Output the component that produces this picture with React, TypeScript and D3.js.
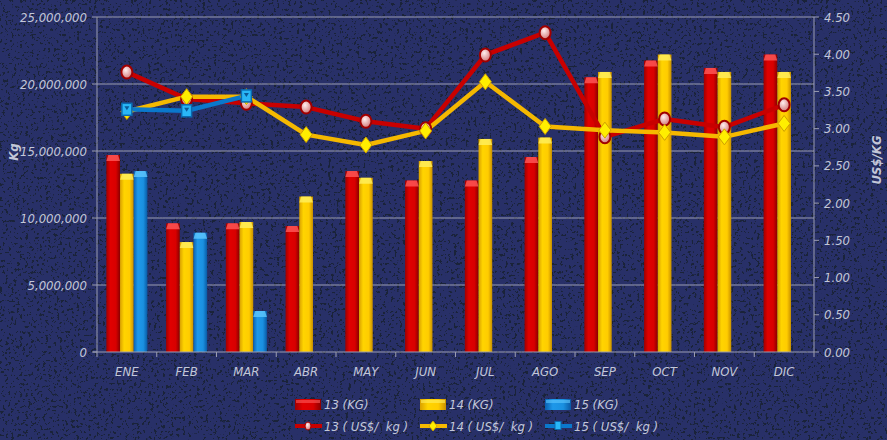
import React from "react";
import * as d3 from "d3";

const months = ["ENE","FEB","MAR","ABR","MAY","JUN","JUL","AGO","SEP","OCT","NOV","DIC"];
const kg13 = [14.7e6, 9.6e6, 9.6e6, 9.4e6, 13.5e6, 12.8e6, 12.8e6, 14.55e6, 20.5e6, 21.75e6, 21.2e6, 22.2e6];
const kg14 = [13.3e6, 8.2e6, 9.7e6, 11.6e6, 13.0e6, 14.25e6, 15.9e6, 16.0e6, 20.9e6, 22.2e6, 20.9e6, 20.9e6];
const kg15 = [13.5e6, 8.9e6, 3.06e6];
const usd13 = [3.76, 3.40, 3.34, 3.29, 3.10, 3.00, 3.99, 4.29, 2.89, 3.13, 3.02, 3.32];
const usd14 = [3.23, 3.43, 3.43, 2.92, 2.78, 2.97, 3.63, 3.03, 2.98, 2.95, 2.89, 3.07];
const usd15 = [3.26, 3.24, 3.44];
const leftTicks = [0, 5e6, 10e6, 15e6, 20e6, 25e6];
const rightTicks = [0, 0.5, 1, 1.5, 2, 2.5, 3, 3.5, 4, 4.5];
const legendBars = ["13 (KG)", "14 (KG)", "15 (KG)"];
const legendLines = ["13 ( US$/  kg )", "14 ( US$/  kg )", "15 ( US$/  kg )"];

const W = 887, H = 440;
const L = 97, R = 814, T = 17, B = 352;
const TXT = "#c3c7d8";
const FONT = "'DejaVu Sans Condensed', 'Liberation Sans Narrow', 'DejaVu Sans', sans-serif";

export default function App() {
  const x = d3.scaleBand<string>().domain(months).range([L, R]);
  const yL = d3.scaleLinear().domain([0, 25e6]).range([B, T]);
  const yR = d3.scaleLinear().domain([0, 4.5]).range([B, T]);
  const bw = 13.7;
  const cx = (m: string) => (x(m) as number) + x.bandwidth() / 2;
  const fmt = d3.format(",");

  const barSeries = [
    { data: kg13, grad: "gRed", cap: "#ff5a5a", off: -1.5 },
    { data: kg14, grad: "gYel", cap: "#fff060", off: -0.5 },
    { data: kg15, grad: "gBlu", cap: "#5fc8ff", off: 0.5 },
  ];
  const lineSeries = [
    { data: usd13, color: "#c80000", kind: "circle" },
    { data: usd14, color: "#f5b800", kind: "diamond" },
    { data: usd15, color: "#0a78cc", kind: "square" },
  ];

  const marker = (kind: string, px: number, py: number, key: string) => {
    if (kind === "circle")
      return <ellipse key={key} cx={px} cy={py} rx={5.5} ry={6.5} fill="url(#gPink)" stroke="#a00000" strokeWidth={2} />;
    if (kind === "diamond")
      return <path key={key} d={`M${px},${py - 8} L${px + 6},${py} L${px},${py + 8} L${px - 6},${py} Z`} fill="#ffee00" stroke="#d0a000" strokeWidth={1} />;
    return <g key={key}><rect x={px - 5} y={py - 6} width={10} height={12} fill="#29b6f6" stroke="#0a6ab0" strokeWidth={1.5} /><path d={`M${px - 2.5},${py - 3} L${px + 2.5},${py - 3} L${px},${py + 1} Z`} fill="#0a5a9a" /></g>;
  };

  const line = d3.line<number>().x((_, i) => cx(months[i])).y((d) => yR(d));
  const pre = { whiteSpace: "pre" } as React.CSSProperties;

  return (
    <svg width={W} height={H} style={{ position: "absolute", left: 0, top: 0, display: "block" }}>
      <defs>
        <linearGradient id="gRed" x1="0" x2="1" y1="0" y2="0">
          <stop offset="0" stopColor="#a00000" />
          <stop offset="0.3" stopColor="#e00000" />
          <stop offset="0.7" stopColor="#d80000" />
          <stop offset="1" stopColor="#8a0000" />
        </linearGradient>
        <linearGradient id="gYel" x1="0" x2="1" y1="0" y2="0">
          <stop offset="0" stopColor="#d9a000" />
          <stop offset="0.3" stopColor="#ffd400" />
          <stop offset="0.7" stopColor="#ffcc00" />
          <stop offset="1" stopColor="#c89000" />
        </linearGradient>
        <linearGradient id="gBlu" x1="0" x2="1" y1="0" y2="0">
          <stop offset="0" stopColor="#0a60b0" />
          <stop offset="0.3" stopColor="#1e98ea" />
          <stop offset="0.7" stopColor="#1a90e0" />
          <stop offset="1" stopColor="#0a5aa5" />
        </linearGradient>
        <radialGradient id="gPink" cx="0.4" cy="0.35" r="0.7">
          <stop offset="0" stopColor="#fff0f0" />
          <stop offset="1" stopColor="#d07070" />
        </radialGradient>
        <filter id="noise" x="0" y="0" width="100%" height="100%" colorInterpolationFilters="sRGB">
          <feTurbulence type="fractalNoise" baseFrequency="0.35" numOctaves="3" seed="7" result="n" />
          <feColorMatrix type="matrix" values="0 0 0 0 0.06  0 0 0 0 0.1  0 0 0 0 0.08  0 0 0 -25 9.5" />
        </filter>
      </defs>
      <rect x={0} y={0} width={W} height={H} fill="#283068" />
      <rect x={0} y={0} width={W} height={H} filter="url(#noise)" opacity={0.55} />

      {leftTicks.slice(1).map((t) => (
        <line key={"g" + t} x1={L} x2={R} y1={yL(t)} y2={yL(t)} stroke="#9a9cb0" strokeWidth={1} />
      ))}

      {barSeries.map((s, si) =>
        s.data.map((v, i) => {
          const bx = cx(months[i]) + s.off * bw;
          const by = yL(v);
          return (
            <g key={`b${si}-${i}`}>
              <rect x={bx} y={by} width={bw} height={B - by} fill={`url(#${s.grad})`} />
              <path d={`M${bx},${by + 6} L${bx + 2},${by} L${bx + bw - 2},${by} L${bx + bw},${by + 6} Z`} fill={s.cap} opacity={0.8} />
            </g>
          );
        })
      )}

      <line x1={L} x2={L} y1={T} y2={B} stroke="#9a9cb0" />
      <line x1={R} x2={R} y1={T} y2={B} stroke="#9a9cb0" />
      <line x1={L - 4} x2={R} y1={B} y2={B} stroke="#9a9cb0" />
      {leftTicks.map((t) => (
        <g key={"lt" + t}>
          <line x1={L - 5} x2={L} y1={yL(t)} y2={yL(t)} stroke="#9a9cb0" />
          <text x={L - 10} y={yL(t)} dy="0.35em" textAnchor="end" fill={TXT} fontSize={13} fontStyle="italic" fontFamily={FONT}>{fmt(t)}</text>
        </g>
      ))}
      {rightTicks.map((t) => (
        <g key={"rt" + t}>
          <line x1={R} x2={R + 5} y1={yR(t)} y2={yR(t)} stroke="#9a9cb0" />
          <text x={R + 10} y={yR(t)} dy="0.35em" textAnchor="start" fill={TXT} fontSize={13} fontStyle="italic" fontFamily={FONT}>{t.toFixed(2)}</text>
        </g>
      ))}
      {months.map((m) => (
        <g key={"xt" + m}>
          <line x1={(x(m) as number) + x.bandwidth()} x2={(x(m) as number) + x.bandwidth()} y1={B} y2={B + 5} stroke="#9a9cb0" />
          <text x={cx(m)} y={B + 24} textAnchor="middle" fill={TXT} fontSize={13} fontStyle="italic" fontFamily={FONT}>{m}</text>
        </g>
      ))}
      <line x1={L} x2={L} y1={B} y2={B + 5} stroke="#9a9cb0" />

      <text transform={`translate(18,152) rotate(-90)`} textAnchor="middle" fill={TXT} fontSize={13} fontWeight="bold" fontStyle="italic" fontFamily={FONT}>Kg</text>
      <text transform={`translate(881,160) rotate(-90)`} textAnchor="middle" fill={TXT} fontSize={13} fontWeight="bold" fontStyle="italic" fontFamily={FONT}>US$/KG</text>

      {lineSeries.map((s, si) => (
        <path key={"l" + si} d={line(s.data) || ""} fill="none" stroke={s.color} strokeWidth={4.5} strokeLinejoin="round" />
      ))}
      {lineSeries.map((s, si) => s.data.map((v, i) => marker(s.kind, cx(months[i]), yR(v), `m${si}-${i}`)))}

      {barSeries.map((s, i) => {
        const lx = 295 + i * 125;
        return (
          <g key={"lb" + i}>
            <rect x={lx} y={399} width={26} height={11} fill={`url(#${s.grad})`} />
            <rect x={lx + 1} y={400} width={24} height={3} fill={s.cap} opacity={0.6} />
            <text x={lx + 29} y={409} fill={TXT} fontSize={13} fontStyle="italic" fontFamily={FONT}>{legendBars[i]}</text>
          </g>
        );
      })}
      {lineSeries.map((s, i) => {
        const lx = 295 + i * 125;
        return (
          <g key={"ll" + i}>
            <line x1={lx} x2={lx + 27} y1={426} y2={426} stroke={s.color} strokeWidth={4} />
            {s.kind === "circle" && <ellipse cx={lx + 13} cy={426} rx={3} ry={4} fill="url(#gPink)" stroke="#a00000" strokeWidth={1} />}
            {s.kind === "diamond" && <path d={`M${lx + 13},${421} L${lx + 17},${426} L${lx + 13},${431} L${lx + 9},${426} Z`} fill="#ffee00" stroke="#d0a000" strokeWidth={0.8} />}
            {s.kind === "square" && <rect x={lx + 10} y={421.5} width={6} height={8} fill="#29b6f6" stroke="#0a6ab0" strokeWidth={1} />}
            <text x={lx + 29} y={431} fill={TXT} fontSize={13} fontStyle="italic" fontFamily={FONT} style={pre}>{legendLines[i]}</text>
          </g>
        );
      })}
    </svg>
  );
}
